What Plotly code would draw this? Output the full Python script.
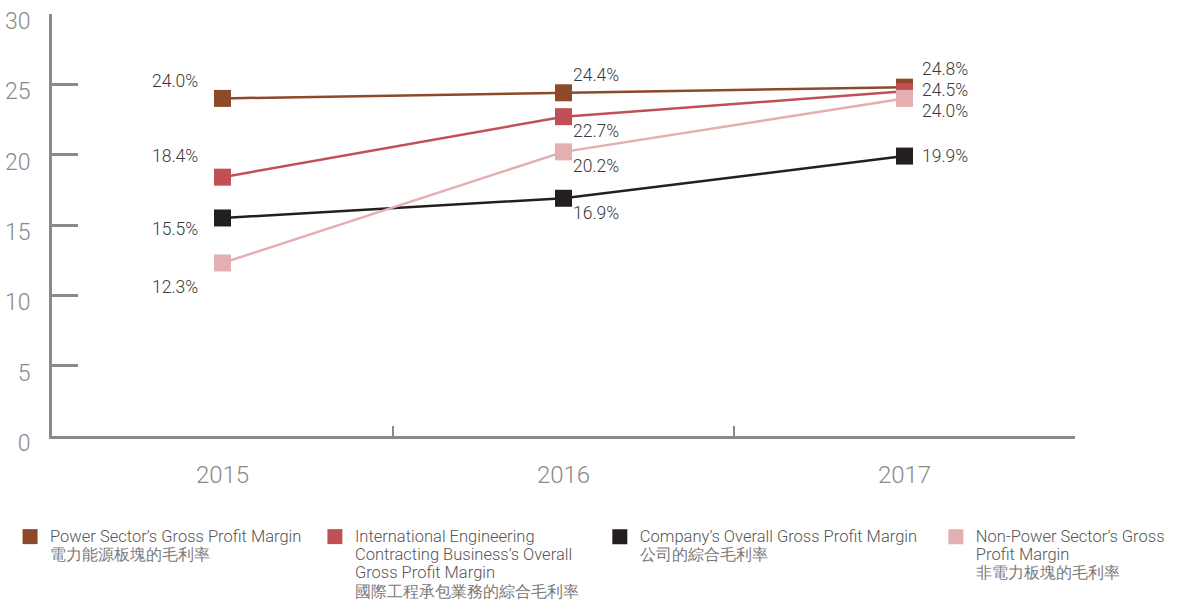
import plotly.graph_objects as go

# Gross profit margin (%) by year
years = ["2015", "2016", "2017"]
power_sector = [24.0, 24.4, 24.8]
intl_engineering = [18.4, 22.7, 24.5]
company_overall = [15.5, 16.9, 19.9]
non_power_sector = [12.3, 20.2, 24.0]

EN = "<span style='font-size:16.5px'>{}</span>"
ZH = "<span style='font-size:16px;fill:#7a7a7a'>{}</span>"
legend_en = [
    ["Power Sector’s Gross Profit Margin"],
    ["International Engineering", "Contracting Business’s Overall", "Gross Profit Margin"],
    ["Company’s Overall Gross Profit Margin"],
    ["Non-Power Sector’s Gross", "Profit Margin"],
]
legend_zh = ["電力能源板塊的毛利率", "國際工程承包業務的綜合毛利率", "公司的綜合毛利率", "非電力板塊的毛利率"]
series_names = [
    "<br>".join([EN.format(s) for s in en] + [ZH.format(zh)])
    for en, zh in zip(legend_en, legend_zh)
]
series_values = [power_sector, intl_engineering, company_overall, non_power_sector]
colors = ["#8c4a2a", "#c05055", "#231f20", "#e3afb0"]

# per-point label offsets (pixels) and anchors
label_offsets = [
    [(-24, 17, "right"), (8, 18, "left"), (16, 18, "left")],
    [(-24, 21, "right"), (8, -14, "left"), (16, 1, "left")],
    [(-24, -11, "right"), (8, -15, "left"), (16, 0, "left")],
    [(-24, -24, "right"), (8, -14, "left"), (16, -13, "left")],
]

FONT = "Helvetica Neue, Roboto, Arial, sans-serif"
legend_x = [-0.041, 0.2570, 0.5355, 0.864]

fig = go.Figure()
for i, (name, vals, col) in enumerate(zip(series_names, series_values, colors)):
    fig.add_trace(go.Scatter(
        x=years, y=vals, mode="lines+markers",
        line=dict(color=col, width=2.5),
        marker=dict(symbol="square", size=17, color=col),
        showlegend=False, hoverinfo="skip",
    ))
    lg = "legend" if i == 0 else f"legend{i + 1}"
    fig.add_trace(go.Scatter(
        x=[None], y=[None], mode="markers", name=name,
        marker=dict(symbol="square", size=15, color=col),
        legend=lg,
    ))
    # category axis: annotations are placed by category index
    for j, (v, (dx, dy, anchor)) in enumerate(zip(vals, label_offsets[i])):
        fig.add_annotation(
            x=j, y=v, text=f"{v:.1f}%", showarrow=False,
            xshift=dx, yshift=dy, xanchor=anchor, borderpad=0,
            font=dict(family=FONT, size=17.5, color="#3a3a3a", weight=300),
        )

legend_common = dict(
    orientation="v", xanchor="left", yanchor="top", y=-0.2015,
    valign="top", bgcolor="rgba(0,0,0,0)", itemwidth=30,
    font=dict(family=FONT, size=14.0, color="#555555", weight=300),
    tracegroupgap=0,
)
layout_legends = {}
for i, lx in enumerate(legend_x):
    key = "legend" if i == 0 else f"legend{i + 1}"
    layout_legends[key] = dict(legend_common, x=lx)

fig.update_layout(
    width=1179, height=600,
    margin=dict(l=52, r=104, t=14, b=164, autoexpand=False),
    paper_bgcolor="white", plot_bgcolor="white",
    font=dict(family=FONT),
    xaxis=dict(
        type="category", range=[-0.5, 2.5], automargin=False,
        showline=True, linecolor="#8a8a8c", linewidth=2.5,
        ticks="inside", tickson="boundaries", ticklen=10, tickwidth=2,
        tickcolor="#8a8a8c", showgrid=False, zeroline=False,
        ticklabelstandoff=15,
        tickfont=dict(family=FONT, size=24, color="#8a8a8a", weight=300),
    ),
    yaxis=dict(
        range=[0, 30], tickvals=[0, 5, 10, 15, 20, 25, 30], automargin=False,
        showline=True, linecolor="#8a8a8c", linewidth=3,
        ticks="inside", ticklen=26, tickwidth=2.5, tickcolor="#8a8a8c",
        showgrid=False, zeroline=False,
        ticklabelstandoff=14, ticklabelshift=7,
        tickfont=dict(family=FONT, size=23, color="#8a8a8a", weight=300),
    ),
    **layout_legends,
)

fig.write_html("out.html")
